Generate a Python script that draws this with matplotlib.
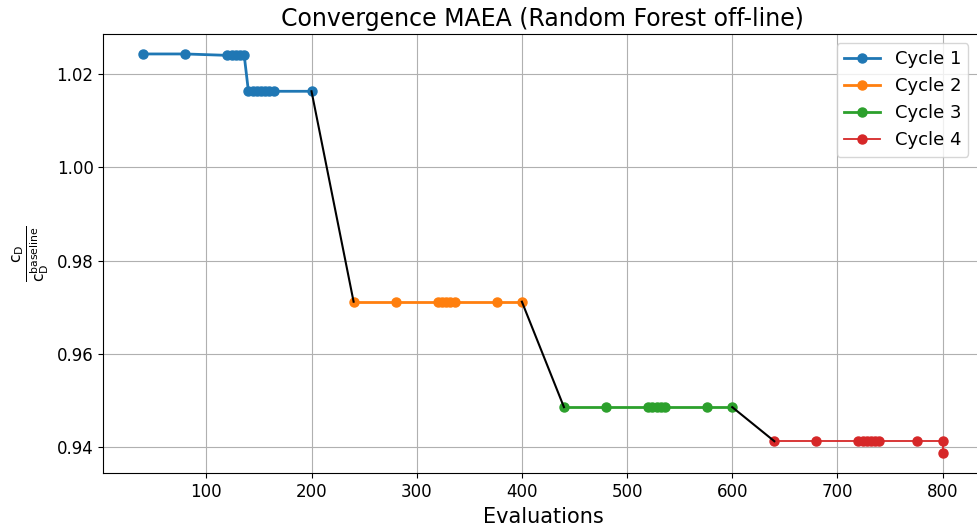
import matplotlib
matplotlib.use("Agg")
import matplotlib.pyplot as plt

# evaluations and normalised drag per optimisation cycle
cycle1_x = [40, 80, 120, 124, 128, 132, 136, 140, 144, 148, 152, 156, 160, 164, 200]
cycle1_y = [1.0243, 1.0243, 1.0240, 1.0240, 1.0240, 1.0240, 1.0240,
            1.0163, 1.0163, 1.0163, 1.0163, 1.0163, 1.0163, 1.0163, 1.0163]
cycle2_x = [240, 280, 320, 324, 328, 332, 336, 376, 400]
cycle2_y = [0.9712] * 9
cycle3_x = [440, 480, 520, 524, 528, 532, 536, 576, 600]
cycle3_y = [0.9486] * 9
cycle4_x = [640, 680, 720, 724, 728, 732, 736, 740, 776, 800, 800]
cycle4_y = [0.9413] * 10 + [0.9387]

cycles = [(cycle1_x, cycle1_y), (cycle2_x, cycle2_y),
          (cycle3_x, cycle3_y), (cycle4_x, cycle4_y)]
labels = ["Cycle 1", "Cycle 2", "Cycle 3", "Cycle 4"]
widths = [2.0, 2.0, 2.0, 1.3]

fig = plt.figure(figsize=(9.77, 5.27), dpi=100)
ax = fig.add_axes([0.1057, 0.1019, 0.9000, 0.8336])

for (x, y), lab, lw in zip(cycles, labels, widths):
    ax.plot(x, y, marker="o", markersize=6.5, linewidth=lw, label=lab)

# black segments joining one cycle to the next
for (x0, y0), (x1, y1) in zip(cycles[:-1], cycles[1:]):
    ax.plot([x0[-1], x1[0]], [y0[-1], y1[0]], color="black", linewidth=1.5)

ax.set_xlim(2, 838)
ax.set_title("Convergence MAEA (Random Forest off-line)", fontsize=17)
ax.set_xlabel("Evaluations", fontsize=15)
ax.set_ylabel(r"$\frac{\mathrm{c_D}}{\mathrm{c_D^{baseline}}}$", fontsize=16)
ax.tick_params(labelsize=12)
ax.grid(True)
ax.legend(fontsize=13, loc="upper right", bbox_to_anchor=(0.994, 1.0))

plt.savefig("out.png", dpi=100)
plt.close()
